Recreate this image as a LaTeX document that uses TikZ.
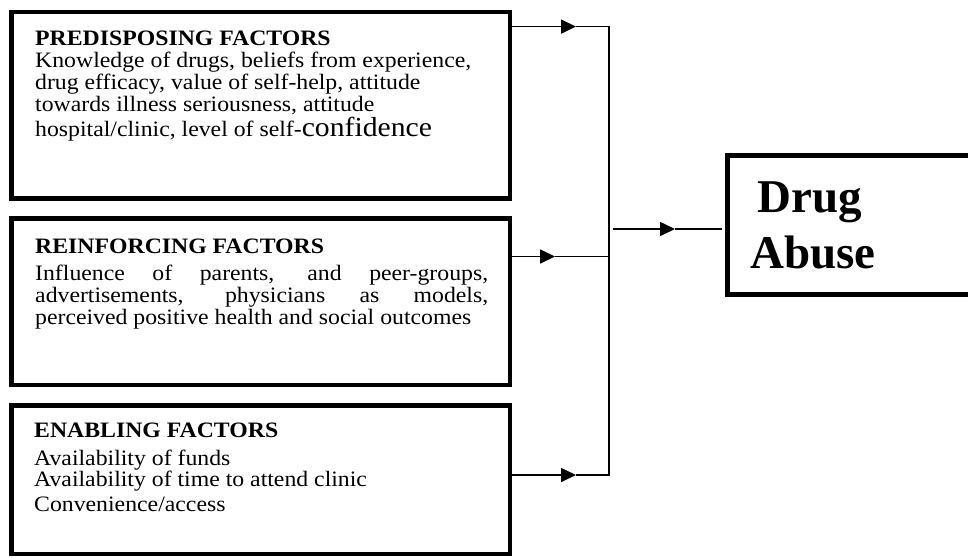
\documentclass[tikz,border=0pt]{standalone}
\usepackage{fontspec}
\setmainfont{Liberation Serif}[FakeStretch=1.08]
\newfontfamily\headfont{Liberation Serif}
\usetikzlibrary{arrows.meta}

\begin{document}
\begin{tikzpicture}[x=1pt,y=-1pt,
  factorbox/.style={draw, line width=4.8pt, rectangle, minimum width=498.5pt, inner sep=0pt},
  txt/.style={anchor=base west, inner sep=0pt, font=\fontsize{22}{26}\selectfont},
  feed/.style={line width=1.7pt, -{Triangle[length=15pt,width=14pt]}},
  link/.style={line width=1.3pt},
  outcome/.style={anchor=base west, inner sep=0pt, font=\headfont\bfseries\fontsize{47}{56}\selectfont}]

\fill[white] (0,0) rectangle (968,557);
\useasboundingbox (0,0) rectangle (968,557);
\clip (0,0) rectangle (968,557);

% factor boxes
\node[factorbox, minimum height=186.5pt] (pre) at (260.75,105.25) {};
\node[factorbox, minimum height=166.7pt] (rei) at (260.75,301.65) {};
\node[factorbox, minimum height=148.5pt] (ena) at (260.75,479.75) {};

% outcome box, running past the right edge
\node[draw, line width=5pt, rectangle, minimum width=263pt, minimum height=138.5pt, inner sep=0pt] (drug) at (858.5,224.75) {};

% predisposing factors
\node[txt] (pre0) at (35,45.7) {\bfseries PREDISPOSING FACTORS};
\node[txt] (pre1) at (35,67.7) {Knowledge of drugs, beliefs from experience,};
\node[txt] (pre2) at (35,89.3) {drug efficacy, value of self-help, attitude};
\node[txt] (pre3) at (35,111) {towards illness seriousness, attitude};
\node[txt] (pre4) at (35,136) {hospital/clinic, level of self-{\fontsize{27.5}{30}\selectfont confidence}};

% reinforcing factors
\node[txt] (rei0) at (35,253) {\bfseries REINFORCING FACTORS};
\node[txt] (rei1) at (35,280.5) {\makebox[453pt][s]{Influence of parents, and peer-groups,}};
\node[txt] (rei2) at (35,302.5) {\makebox[453pt][s]{advertisements, physicians as models,}};
\node[txt] (rei3) at (35,324.5) {perceived positive health and social outcomes};

% enabling factors
\node[txt] (ena0) at (34,437.7) {\bfseries ENABLING FACTORS};
\node[txt] (ena1) at (34,465.7) {Availability of funds};
\node[txt] (ena2) at (34,486.7) {Availability of time to attend clinic};
\node[txt] (ena3) at (34,511.7) {Convenience/access};

% outcome label
\node[outcome] (drugA) at (757,212) {Drug};
\node[outcome] (drugB) at (750,268) {Abuse};

% junction points
\coordinate (t1) at (576,26.6);
\coordinate (t2) at (555,256.5);
\coordinate (t3) at (576,475);
\coordinate (j1) at (609,26.6);
\coordinate (j2) at (609,256.5);
\coordinate (j3) at (609,475);
\coordinate (o0) at (613,229);
\coordinate (o1) at (675,229);

% feeds into the collecting line
\draw[feed] (pre.east |- t1) -- (t1);
\draw[feed] (rei.east |- t2) -- (t2);
\draw[feed] (ena.east |- t3) -- (t3);
\draw[link] (t1) -- (j1) -- (j3) -- (t3);
\draw[link] (t2) -- (j2);

% collected arrow into the outcome
\draw[feed, line width=1.5pt] (o0) -- (o1);
\draw[link, shorten >=3pt] (o1) -- (drug.west |- o1);
\end{tikzpicture}
\end{document}
